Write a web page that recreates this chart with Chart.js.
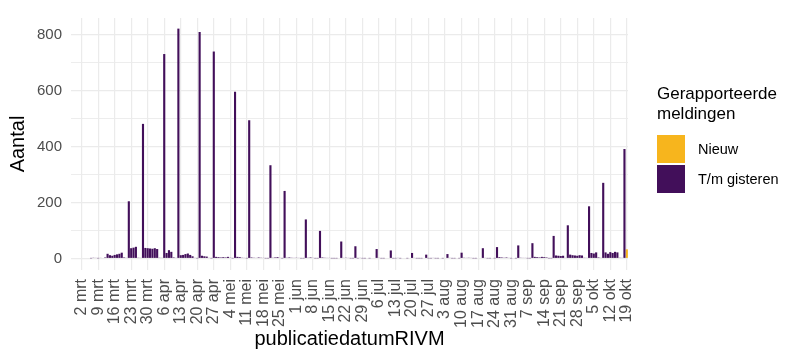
<!DOCTYPE html>
<html>
<head>
<meta charset="utf-8">
<script src="https://cdn.jsdelivr.net/npm/chart.js@4/dist/chart.umd.min.js"></script>
<style>
  body { margin: 0; background: #fff; }
  #wrap { position: relative; width: 787px; height: 349px; font-family: 'Liberation Sans', Arial, sans-serif; }
  #chart { position: absolute; left: 0; top: 0; }
  #legend { position: absolute; left: 657px; top: 84px; color: #000; }
  #legend .title { font-size: 17px; line-height: 19.5px; margin-bottom: 11px; }
  #legend .item { display: flex; align-items: center; height: 30px; }
  #legend .key { width: 28px; height: 28px; margin-right: 13px; }
  #legend .text { font-size: 14.5px; }
</style>
</head>
<body>
<div id="wrap">
  <canvas id="chart" width="787" height="349"></canvas>
  <div id="legend"></div>
</div>
<script>
// first day shown is 27 feb 2020, last is 19 okt 2020 (236 days)
const startDay = [2020, 1, 27];
const dayCount = 236;
const months = ['jan', 'feb', 'mrt', 'apr', 'mei', 'jun', 'jul', 'aug', 'sep', 'okt', 'nov', 'dec'];

// x-axis tick labels (Mondays)
const tickLabels = ['2 mrt', '9 mrt', '16 mrt', '23 mrt', '30 mrt', '6 apr', '13 apr', '20 apr', '27 apr',
  '4 mei', '11 mei', '18 mei', '25 mei', '1 jun', '8 jun', '15 jun', '22 jun', '29 jun', '6 jul',
  '13 jul', '20 jul', '27 jul', '3 aug', '10 aug', '17 aug', '24 aug', '31 aug', '7 sep', '14 sep',
  '21 sep', '28 sep', '5 okt', '12 okt', '19 okt'];

const yTicks = [0, 100, 200, 300, 400, 500, 600, 700, 800];

// "T/m gisteren", one value per day
const tmGisteren = [
  0, 0, 0, 0,                     // 27 feb - 1 mrt
  0, 0, 0, 0, 1, 3, 2,            // 2 - 8 mrt
  1, 2, 0, 4, 17, 12, 10,         // 9 - 15 mrt
  13, 15, 17, 21, 4, 2, 205,      // 16 - 22 mrt
  37, 39, 42, 3, 2, 482, 38,      // 23 - 29 mrt
  37, 36, 35, 37, 34, 3, 2,       // 30 mrt - 5 apr
  732, 20, 30, 24, 4, 2, 823,     // 6 - 12 apr
  12, 13, 16, 18, 13, 8, 2,       // 13 - 19 apr
  1, 811, 10, 8, 7, 2, 1,         // 20 - 26 apr
  741, 6, 5, 4, 5, 4, 6,          // 27 apr - 3 mei
  3, 1, 597, 6, 5, 3, 2,          // 4 - 10 mei
  1, 495, 4, 3, 2, 4, 3,          // 11 - 17 mei
  2, 1, 1, 334, 3, 4, 5,          // 18 - 24 mei
  2, 1, 242, 3, 4, 3, 2,          // 25 - 31 mei
  3, 2, 1, 1, 140, 3, 4,          // 1 - 7 jun
  2, 1, 1, 99, 4, 3, 2,           // 8 - 14 jun
  2, 1, 1, 1, 0, 61, 2,           // 15 - 21 jun
  3, 2, 1, 1, 44, 1, 2,           // 22 - 28 jun
  1, 1, 0, 1, 0, 0, 34,           // 29 jun - 5 jul
  2, 1, 1, 0, 0, 29, 1,           // 6 - 12 jul
  1, 2, 1, 0, 0, 1, 0,            // 13 - 19 jul
  20, 2, 1, 1, 1, 0, 14,          // 20 - 26 jul
  1, 1, 2, 1, 1, 0, 1,            // 27 jul - 2 aug
  0, 16, 2, 1, 1, 0, 1,           // 3 - 9 aug
  21, 3, 2, 3, 2, 1, 1,           // 10 - 16 aug
  0, 0, 37, 2, 1, 1, 0,           // 17 - 23 aug
  1, 41, 5, 4, 3, 4, 2,           // 24 - 30 aug
  1, 0, 1, 47, 3, 2, 2,           // 31 aug - 6 sep
  1, 1, 55, 6, 5, 4, 6,           // 7 - 13 sep
  5, 4, 1, 1, 81, 11, 10,         // 14 - 20 sep
  9, 10, 2, 119, 14, 12, 11,      // 21 - 27 sep
  10, 12, 11, 3, 2, 187, 20,      // 28 sep - 4 okt
  18, 22, 4, 2, 271, 22, 17,      // 5 - 11 okt
  23, 20, 24, 22, 3, 2, 392,      // 12 - 18 okt
  0                               // 19 okt
];

// "Nieuw" only shows up on the last day
const nieuwDays = ['19 okt'];
const nieuwValues = [33];

const days = [];
for (let i = 0; i < dayCount; i++) {
  const d = new Date(startDay[0], startDay[1], startDay[2] + i);
  days.push(d.getDate() + ' ' + months[d.getMonth()]);
}
const firstTick = days.indexOf(tickLabels[0]);

const fontFamily = "'Liberation Sans', Arial, sans-serif";
const purple = '#420f5a';
const orange = '#f7b51d';

const chart = new Chart(document.getElementById('chart'), {
  type: 'bar',
  data: {
    labels: days,
    datasets: [{
      label: 'T/m gisteren',
      data: tmGisteren,
      backgroundColor: purple
    }, {
      label: 'Nieuw',
      data: nieuwDays.map((d, i) => ({ x: d, y: nieuwValues[i] })),
      backgroundColor: orange
    }]
  },
  options: {
    responsive: false,
    animation: false,
    devicePixelRatio: 1,
    barPercentage: 0.9,
    categoryPercentage: 1,
    layout: { padding: { top: 13, right: 159, left: 0, bottom: 0 } },
    plugins: { legend: { display: false }, tooltip: { enabled: false } },
    scales: {
      x: {
        stacked: true,
        offset: true,
        grid: { offset: false, color: '#ebebeb', lineWidth: 1.2, drawTicks: false },
        border: { display: false },
        afterBuildTicks: axis => {
          axis.ticks = axis.ticks.filter(t => t.value >= firstTick && (t.value - firstTick) % 7 === 0);
        },
        ticks: {
          autoSkip: false,
          minRotation: 90,
          maxRotation: 90,
          padding: 9,
          color: '#4d4d4d',
          font: { family: fontFamily, size: 16 },
          callback: function (value) {
            return tickLabels[(value - firstTick) / 7];
          }
        },
        title: {
          display: true,
          text: 'publicatiedatumRIVM',
          color: '#000',
          font: { family: fontFamily, size: 20, lineHeight: 1 },
          padding: 0
        },
        afterFit: s => { s.height = 79; }
      },
      y: {
        stacked: true,
        min: -41,
        max: 861,
        afterBuildTicks: axis => {
          axis.ticks = yTicks.map(v => ({ value: v }));
        },
        grid: {
          color: '#ebebeb',
          lineWidth: ctx => (ctx.tick && ctx.tick.value % 200 === 0) ? 1.3 : 0.9,
          drawTicks: false
        },
        border: { display: false },
        ticks: {
          padding: 9,
          color: '#4d4d4d',
          font: { family: fontFamily, size: 15 },
          callback: v => (v % 200 === 0 ? v : '')
        },
        title: {
          display: true,
          text: 'Aantal',
          color: '#000',
          font: { family: fontFamily, size: 20, lineHeight: 1 },
          padding: { top: 8, bottom: 0 }
        },
        afterFit: s => { s.width = 71; }
      }
    }
  }
});

// legend in ggplot order
const legend = document.getElementById('legend');
legend.innerHTML = '<div class="title">Gerapporteerde<br>meldingen</div>';
[chart.data.datasets[1], chart.data.datasets[0]].forEach(ds => {
  const item = document.createElement('div');
  item.className = 'item';
  item.innerHTML = '<div class="key" style="background:' + ds.backgroundColor + '"></div><div class="text">' + ds.label + '</div>';
  legend.appendChild(item);
});
</script>
</body>
</html>
